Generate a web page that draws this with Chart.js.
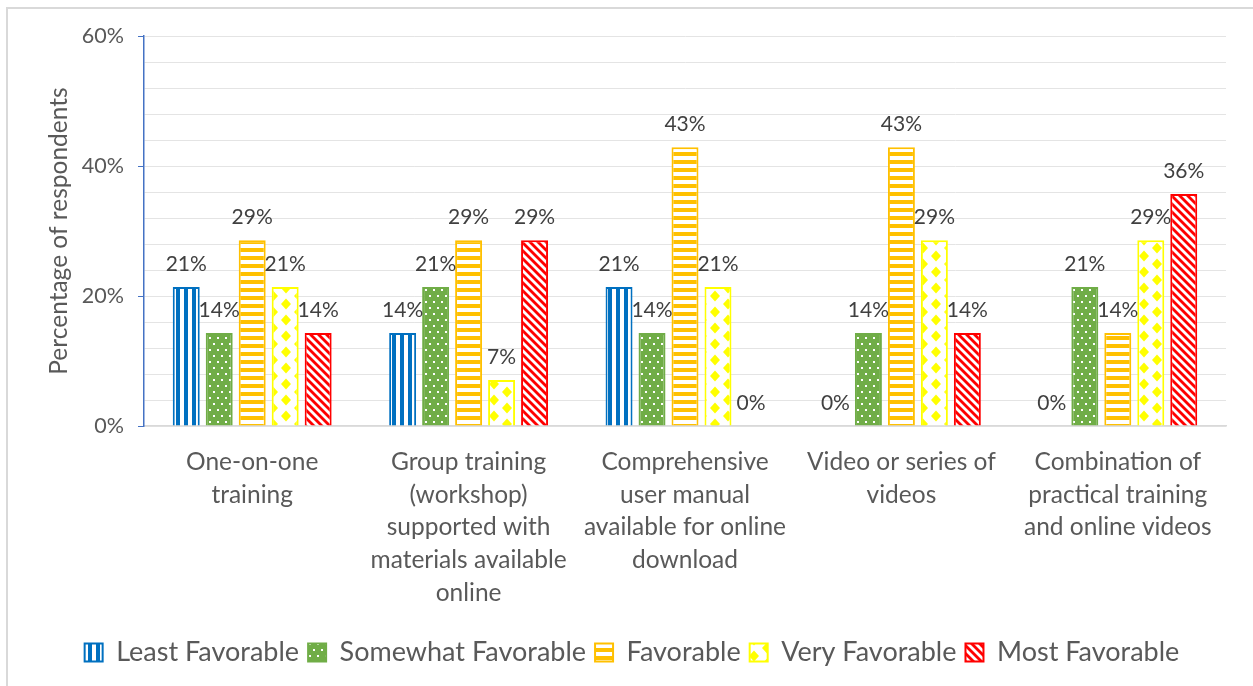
<!DOCTYPE html>
<html>
<head>
<meta charset="utf-8">
<script src="https://cdn.jsdelivr.net/npm/chart.js@4.4.1/dist/chart.umd.min.js"></script>
<style>
    html, body { margin: 0; padding: 0; background: #fff; }
    #frame {
        position: absolute; left: 6px; top: 7px; width: 1300px; height: 700px;
        border-left: 2px solid #D9D9D9; border-top: 2px solid #D9D9D9;
    }
    #c { position: absolute; left: 0; top: 0; }
</style>
</head>
<body>
<div id="frame"></div>
<canvas id="c" width="1253" height="686"></canvas>
<script>
/* =========================
   Data
========================= */
const categories = [
    ["One-on-one", "training"],
    ["Group training", "(workshop)", "supported with", "materials available", "online"],
    ["Comprehensive", "user manual", "available for online", "download"],
    ["Video or series of", "videos"],
    ["Combination of", "practical training", "and online videos"]
];
const seriesNames = ["Least Favorable", "Somewhat Favorable", "Favorable", "Very Favorable", "Most Favorable"];
const leastFavorable = [21.4, 14.3, 21.4, 0, 0];
const somewhatFavorable = [14.3, 21.4, 14.3, 14.3, 21.4];
const favorable = [28.6, 28.6, 42.9, 42.9, 14.3];
const veryFavorable = [21.4, 7.1, 21.4, 28.6, 28.6];
const mostFavorable = [14.3, 28.6, 0, 14.3, 35.7];
const yTickLabels = [0, 20, 40, 60];

const FONT = "Lato";
const TEXT = "#595959";

/* =========================
   Patterns
========================= */
function makePattern(w, h, draw) {
    const tile = document.createElement("canvas");
    tile.width = w;
    tile.height = h;
    const t = tile.getContext("2d");
    t.fillStyle = "#fff";
    t.fillRect(0, 0, w, h);
    draw(t);
    return document.getElementById("c").getContext("2d").createPattern(tile, "repeat");
}

// blue vertical stripes
const bluePattern = makePattern(8, 8, t => {
    t.fillStyle = "#0070C0";
    t.fillRect(0, 0, 4, 8);
});

// green with white dots
const greenPattern = makePattern(8, 12, t => {
    t.fillStyle = "#70AD47";
    t.fillRect(0, 0, 8, 12);
    t.fillStyle = "#fff";
    t.fillRect(1, 1, 2, 2);
    t.fillRect(5, 7, 2, 2);
});

// orange horizontal stripes
const orangePattern = makePattern(8, 8, t => {
    t.fillStyle = "#FFC000";
    t.fillRect(0, 0, 8, 4);
});

// yellow diamonds
const yellowPattern = makePattern(26, 16, t => {
    t.fillStyle = "#FFFF00";
    const pts = [[0, 0], [26, 0], [0, 16], [26, 16], [13, 8]];
    pts.forEach(p => {
        t.beginPath();
        t.moveTo(p[0], p[1] - 5.5);
        t.lineTo(p[0] + 5, p[1]);
        t.lineTo(p[0], p[1] + 5.5);
        t.lineTo(p[0] - 5, p[1]);
        t.closePath();
        t.fill();
    });
});

// red downward diagonal
const redPattern = makePattern(8, 8, t => {
    t.strokeStyle = "#FF0000";
    t.lineWidth = 2.8;
    [-8, 0, 8].forEach(o => {
        t.beginPath();
        t.moveTo(o - 1, -1);
        t.lineTo(o + 9, 9);
        t.stroke();
    });
});

/* =========================
   Data labels
========================= */
const barLabels = {
    id: "barLabels",
    afterDatasetsDraw(chart) {
        const ctx = chart.ctx;
        ctx.save();
        ctx.font = "21px " + FONT;
        ctx.fillStyle = "#404040";
        ctx.textAlign = "center";
        ctx.textBaseline = "middle";
        chart.data.datasets.forEach((ds, i) => {
            chart.getDatasetMeta(i).data.forEach((bar, j) => {
                ctx.fillText(Math.round(ds.data[j]) + "%", bar.x, bar.y - 23);
            });
        });
        ctx.restore();
    }
};

function ds(label, data, fill, color) {
    return {
        label: label,
        data: data,
        backgroundColor: fill,
        borderColor: color,
        borderWidth: 2,
        categoryPercentage: 0.762,
        barPercentage: 0.818
    };
}

new Chart(document.getElementById("c"), {
    type: "bar",
    data: {
        labels: categories,
        datasets: [
            ds(seriesNames[0], leastFavorable, bluePattern, "#0070C0"),
            ds(seriesNames[1], somewhatFavorable, greenPattern, "#70AD47"),
            ds(seriesNames[2], favorable, orangePattern, "#FFC000"),
            ds(seriesNames[3], veryFavorable, yellowPattern, "#FFFF00"),
            ds(seriesNames[4], mostFavorable, redPattern, "#FF0000")
        ]
    },
    options: {
        responsive: false,
        animation: false,
        layout: { padding: { left: 38, right: 27, top: 36, bottom: 10 } },
        plugins: {
            tooltip: { enabled: false },
            legend: {
                position: "bottom",
                labels: {
                    boxWidth: 18,
                    boxHeight: 18,
                    padding: 9,
                    color: TEXT,
                    font: { family: FONT, size: 27 }
                }
            }
        },
        scales: {
            x: {
                afterFit: s => { s.height += 9; },
                grid: { display: false },
                border: { color: "#D9D9D9", width: 1.5 },
                ticks: {
                    autoSkip: false,
                    maxRotation: 0,
                    padding: 12,
                    color: TEXT,
                    font: { family: FONT, size: 24.5, lineHeight: 1.33 }
                }
            },
            y: {
                min: 0,
                max: 60,
                afterFit: s => { s.width = 106; },
                grid: {
                    color: "#E4E4E4",
                    tickLength: 6,
                    tickColor: c => yTickLabels.includes(c.tick.value) ? "#4472C4" : "rgba(0,0,0,0)"
                },
                border: { color: "#4472C4", width: 1.5 },
                ticks: {
                    stepSize: 4,
                    autoSkip: false,
                    padding: 14,
                    color: TEXT,
                    font: { family: FONT, size: 21.5 },
                    callback: v => yTickLabels.includes(v) ? v + "%" : ""
                },
                title: {
                    display: true,
                    text: "Percentage of respondents",
                    color: TEXT,
                    padding: { top: 6, bottom: 4 },
                    font: { family: FONT, size: 24.5 }
                }
            }
        }
    },
    plugins: [barLabels]
});
</script>
</body>
</html>
